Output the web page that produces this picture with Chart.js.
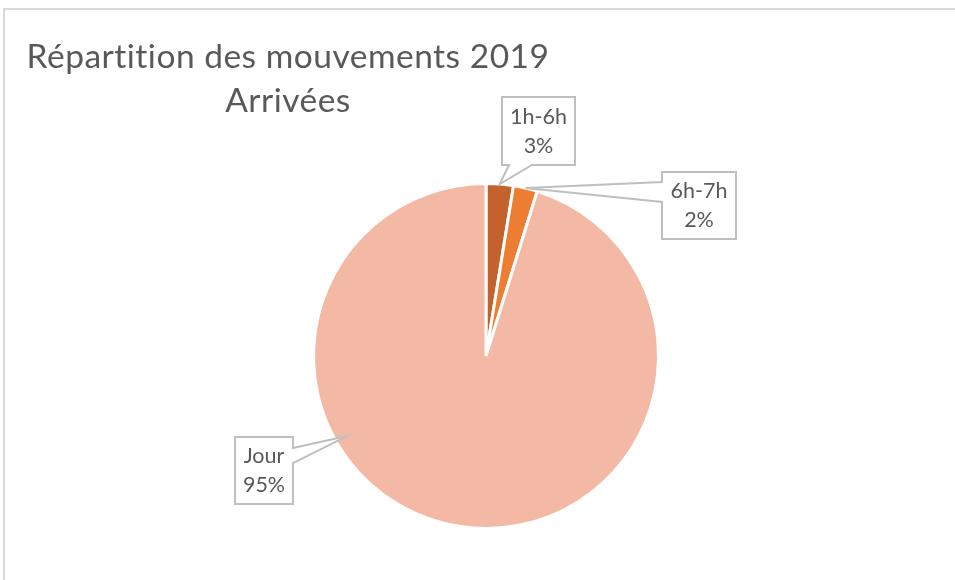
<!DOCTYPE html>
<html lang="fr">
<head>
<meta charset="utf-8">
<title>Répartition des mouvements 2019 - Arrivées</title>
<script src="https://cdn.jsdelivr.net/npm/chart.js@4.4.1/dist/chart.umd.min.js"></script>
<style>
  html, body { margin: 0; padding: 0; background: #fff; }
  #wrap { position: relative; width: 955px; height: 580px; }
</style>
</head>
<body>
<div id="wrap"><canvas id="pieChart" width="955" height="580"></canvas></div>
<script>
(function () {
  "use strict";

  var TITLE_LINES = ["Répartition des mouvements 2019", "Arrivées"];
  var CATEGORIES = ["1h-6h", "6h-7h", "Jour"];
  var VALUES = [2.55, 2.25, 95.2];
  var COLORS = ["#C4622D", "#ED7D31", "#F4B9A4"];

  var TEXT_COLOR = "#595959";
  var FONT = "Lato, 'Open Sans', sans-serif";

  // callout boxes (where Excel put them) + where the pointer lands on the arc
  var CALLOUTS = [
    { x: 502, y: 97, w: 73, h: 68, side: "bottom", b1: 7, b2: 30, pos: 0.5, r: 1.0 },
    { x: 662, y: 172, w: 74, h: 67, side: "left", b1: 10, b2: 30, pos: 0.5, r: 1.0 },
    { x: 235, y: 437, w: 58, h: 67, side: "right", b1: 11, b2: 26, pos: 0.65, r: 0.93 }
  ];

  function pct(i) {
    var total = VALUES.reduce(function (a, b) { return a + b; }, 0);
    return Math.round(VALUES[i] / total * 100) + "%";
  }

  function calloutPath(ctx, c, tip) {
    var x = c.x, y = c.y, w = c.w, h = c.h;
    ctx.beginPath();
    ctx.moveTo(x, y);
    ctx.lineTo(x + w, y);
    if (c.side === "right") {
      ctx.lineTo(x + w, y + c.b1);
      ctx.lineTo(tip.x, tip.y);
      ctx.lineTo(x + w, y + c.b2);
    }
    ctx.lineTo(x + w, y + h);
    if (c.side === "bottom") {
      ctx.lineTo(x + c.b2, y + h);
      ctx.lineTo(tip.x, tip.y);
      ctx.lineTo(x + c.b1, y + h);
    }
    ctx.lineTo(x, y + h);
    if (c.side === "left") {
      ctx.lineTo(x, y + c.b2);
      ctx.lineTo(tip.x, tip.y);
      ctx.lineTo(x, y + c.b1);
    }
    ctx.closePath();
  }

  var framePlugin = {
    id: "frameAndTitle",
    beforeDraw: function (chart) {
      var ctx = chart.ctx;
      ctx.save();
      ctx.fillStyle = "#fff";
      ctx.fillRect(0, 0, chart.width, chart.height);
      ctx.strokeStyle = "#D9D9D9";
      ctx.lineWidth = 2;
      ctx.beginPath();
      ctx.moveTo(4, chart.height);
      ctx.lineTo(4, 9);
      ctx.lineTo(chart.width, 9);
      ctx.stroke();

      ctx.fillStyle = TEXT_COLOR;
      ctx.font = "33.5px " + FONT;
      ctx.letterSpacing = "0.5px"; // also kills the Lato "ti" ligature
      ctx.textAlign = "center";
      ctx.textBaseline = "alphabetic";
      ctx.fillText(TITLE_LINES[0], 288, 68);
      ctx.fillText(TITLE_LINES[1], 288, 112);
      ctx.restore();
    }
  };

  var calloutPlugin = {
    id: "callouts",
    afterDatasetsDraw: function (chart) {
      var ctx = chart.ctx;
      var arcs = chart.getDatasetMeta(0).data;
      ctx.save();
      CALLOUTS.forEach(function (c, i) {
        var arc = arcs[i];
        var p = arc.getProps(["x", "y", "startAngle", "endAngle", "outerRadius"], true);
        var a = p.startAngle + (p.endAngle - p.startAngle) * c.pos;
        var tip = {
          x: p.x + Math.cos(a) * p.outerRadius * c.r,
          y: p.y + Math.sin(a) * p.outerRadius * c.r
        };
        calloutPath(ctx, c, tip);
        ctx.fillStyle = "#fff";
        ctx.fill();
        ctx.strokeStyle = "#BFBFBF";
        ctx.lineWidth = 2;
        ctx.lineJoin = "miter";
        ctx.stroke();

        ctx.fillStyle = TEXT_COLOR;
        ctx.font = "21.5px " + FONT;
        ctx.textAlign = "center";
        ctx.textBaseline = "middle";
        var cx = c.x + c.w / 2, cy = c.y + c.h / 2;
        ctx.fillText(CATEGORIES[i], cx, cy - 14);
        ctx.fillText(pct(i), cx, cy + 15);
      });
      ctx.restore();
    }
  };

  new Chart(document.getElementById("pieChart"), {
    type: "pie",
    data: {
      labels: CATEGORIES,
      datasets: [{
        data: VALUES,
        backgroundColor: COLORS,
        borderColor: "#fff",
        borderWidth: 3
      }]
    },
    options: {
      responsive: false,
      animation: false,
      layout: { padding: { left: 312, right: 295, top: 182, bottom: 50 } },
      plugins: {
        legend: { display: false },
        tooltip: { enabled: false }
      }
    },
    plugins: [framePlugin, calloutPlugin]
  });
})();
</script>
</body>
</html>
